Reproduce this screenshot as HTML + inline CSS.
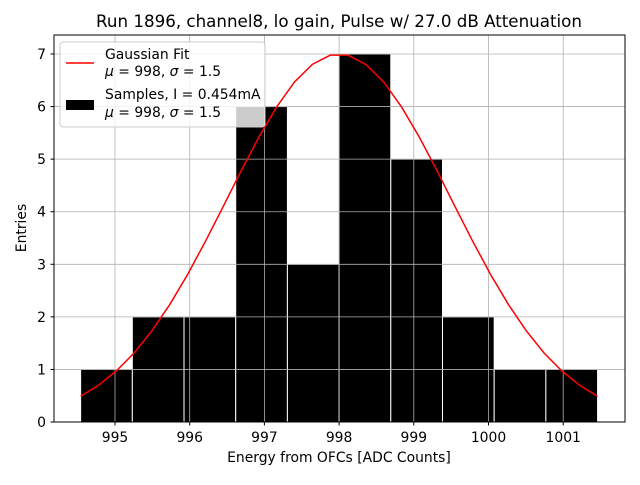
<!DOCTYPE html>
<html><head><meta charset="utf-8"><style>
body{margin:0;background:#fff;}
svg text{font-family:"DejaVu Sans","Liberation Sans",sans-serif;}
</style></head><body>
<svg width="640" height="480" viewBox="0 0 640 480">
<rect width="640" height="480" fill="#fff"/>
<text x="339" y="27" font-size="16.7" text-anchor="middle">Run 1896, channel8, lo gain, Pulse w/ 27.0 dB Attenuation</text>
<g id="bars"></g>
<g id="grid"></g>
<polyline id="fit" fill="none" stroke="#ff0000" stroke-width="1.5"/>
<rect x="54" y="35" width="571" height="387" fill="none" stroke="#000" stroke-width="1"/>
<g id="ticks"></g>
<text x="339" y="462" font-size="13.9" text-anchor="middle">Energy from OFCs [ADC Counts]</text>
<text transform="translate(26,228) rotate(-90)" font-size="13.9" text-anchor="middle">Entries</text>
<g>
<rect x="60" y="42" width="205" height="85" rx="3" fill="#fff" fill-opacity="0.8" stroke="#ccc"/>
<line x1="66" y1="63" x2="94" y2="63" stroke="#ff0000" stroke-width="1.5"/>
<text x="105" y="59" font-size="13.9">Gaussian Fit</text>
<text x="105" y="76" font-size="13.9"><tspan font-style="italic">μ</tspan> = 998, <tspan font-style="italic">σ</tspan> = 1.5</text>
<rect x="66" y="100" width="28" height="10" fill="#000"/>
<text x="105" y="99" font-size="13.9">Samples, I = 0.454mA</text>
<text x="105" y="117" font-size="13.9"><tspan font-style="italic">μ</tspan> = 998, <tspan font-style="italic">σ</tspan> = 1.5</text>
</g>
</svg>
<script>
const binEdges=[994.54,995.232,995.924,996.616,997.308,998.0,998.692,999.384,1000.076,1000.768,1001.46];
const counts=[1,2,2,6,3,7,5,2,1,1];
const xTicks=[995,996,997,998,999,1000,1001];
const yTicks=[0,1,2,3,4,5,6,7];
const fitX=[994.54,994.779,995.017,995.256,995.494,995.733,995.972,996.21,996.449,996.687,996.926,997.165,997.403,997.642,997.881,998.119,998.358,998.597,998.835,999.074,999.313,999.551,999.79,1000.028,1000.267,1000.506,1000.744,1000.983,1001.221,1001.46];
const fitY=[0.49,0.698,0.97,1.313,1.735,2.234,2.806,3.435,4.101,4.774,5.418,5.995,6.468,6.803,6.978,6.978,6.803,6.468,5.995,5.418,4.774,4.101,3.435,2.806,2.234,1.735,1.313,0.97,0.698,0.49];
const NS='http://www.w3.org/2000/svg';
function sx(v){return 115+(v-995)*74.7;}
function sy(v){return 422-v*52.57;}
function mk(t,a,p){const e=document.createElementNS(NS,t);for(const k in a)e.setAttribute(k,a[k]);p.appendChild(e);return e;}
const grid=document.getElementById('grid'),ticks=document.getElementById('ticks'),bars=document.getElementById('bars');
xTicks.forEach(v=>{const x=sx(v);
 const g=mk('line',{x1:x,x2:x,y1:35,y2:422,stroke:'#b0b0b0','stroke-width':0.8},grid);
 
 
 mk('line',{x1:x,x2:x,y1:422,y2:425.5,stroke:'#000'},ticks);
 const t=mk('text',{x:x,y:442,'font-size':13.9,'text-anchor':'middle'},ticks);t.textContent=v;
 
 });
yTicks.forEach(v=>{const y=sy(v);
 const g=mk('line',{x1:54,x2:625,y1:y,y2:y,stroke:'#b0b0b0','stroke-width':0.8},grid);
 
 
 mk('line',{x1:50.5,x2:54,y1:y,y2:y,stroke:'#000'},ticks);
 const t=mk('text',{x:46,y:y+5,'font-size':13.9,'text-anchor':'end'},ticks);t.textContent=v;
 
 });
counts.forEach((c,i)=>{const x0=sx(binEdges[i]),x1=sx(binEdges[i+1]);
 const r=mk('rect',{x:x0,y:sy(c),width:x1-x0,height:sy(0)-sy(c),fill:'#000',stroke:'#fff','stroke-width':1},bars);
 
 });
document.getElementById('fit').setAttribute('points',fitX.map((x,i)=>sx(x)+','+sy(fitY[i])).join(' '));
</script>
</body></html>
